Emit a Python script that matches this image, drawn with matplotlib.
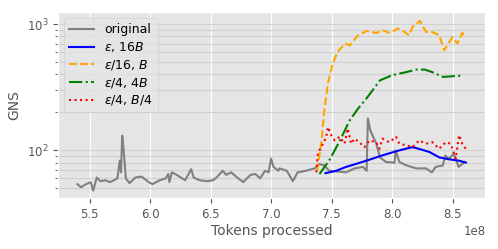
import numpy as np
import matplotlib
matplotlib.use("Agg")
import matplotlib.pyplot as plt

plt.style.use('ggplot')

# token counts in units of 1e8, GNS values
orig_x = [5.40, 5.43, 5.47, 5.51, 5.53, 5.56, 5.59, 5.63, 5.67, 5.73, 5.75, 5.76, 5.77, 5.78,
          5.80, 5.83, 5.88, 5.93, 5.99, 6.02, 6.08, 6.13, 6.15, 6.16, 6.18, 6.22, 6.29, 6.34,
          6.36, 6.41, 6.47, 6.52, 6.55, 6.60, 6.63, 6.67, 6.72, 6.77, 6.83, 6.87, 6.91, 6.95,
          6.98, 7.00, 7.02, 7.06, 7.07, 7.13, 7.18, 7.22, 7.29, 7.36, 7.40, 7.44, 7.48, 7.55,
          7.62, 7.69, 7.76, 7.79, 7.80, 7.82, 7.87, 7.90, 7.95, 8.02, 8.03, 8.06, 8.12, 8.20,
          8.28, 8.33, 8.36, 8.42, 8.44, 8.47, 8.51, 8.55, 8.60]
orig_y = [54, 51, 54, 56, 48, 61, 57, 58, 56, 60, 83, 67, 131, 106,
          60, 55, 61, 62, 56, 54, 58, 60, 65, 56, 67, 64, 58, 71,
          61, 58, 57, 58, 61, 69, 64, 67, 61, 56, 64, 65, 60, 69,
          67, 86, 74, 69, 72, 69, 57, 67, 69, 72, 78, 76, 69, 68,
          67, 72, 74, 69, 179, 144, 113, 88, 81, 80, 100, 81, 76, 72,
          72, 67, 74, 76, 91, 86, 94, 74, 81]

blue_x = [7.45, 7.54, 7.62, 7.70, 7.79, 7.90, 7.98, 8.06, 8.13, 8.17, 8.22, 8.31, 8.39, 8.47, 8.55, 8.61]
blue_y = [66, 69, 74, 78, 83, 90, 95, 100, 104, 106, 103, 97, 88, 85, 83, 80]

orange_x = [7.38, 7.415, 7.44, 7.47, 7.51, 7.55, 7.61, 7.65, 7.72, 7.79, 7.87, 7.92, 7.98, 8.05,
            8.09, 8.14, 8.17, 8.23, 8.28, 8.33, 8.39, 8.43, 8.50, 8.54, 8.58, 8.60]
orange_y = [69, 114, 208, 340, 490, 603, 703, 681, 818, 885, 853, 896, 853, 925,
            885, 818, 952, 1062, 869, 869, 818, 622, 793, 703, 853, 803]

green_x = [7.40, 7.48, 7.57, 7.65, 7.72, 7.79, 7.90, 8.00, 8.12, 8.20, 8.27, 8.33, 8.42, 8.50, 8.58]
green_y = [65, 83, 120, 173, 215, 259, 359, 394, 418, 437, 437, 418, 382, 387, 391]

red_x = [7.374, 7.387, 7.415, 7.456, 7.47, 7.497, 7.525, 7.566, 7.607, 7.634, 7.662, 7.689,
         7.73, 7.771, 7.813, 7.868, 7.895, 7.922, 7.977, 8.033, 8.06, 8.115, 8.169, 8.224,
         8.279, 8.334, 8.389, 8.444, 8.485, 8.526, 8.553, 8.58, 8.609]
red_y = [67, 95, 106, 128, 153, 132, 120, 128, 113, 149, 113, 124,
         116, 106, 120, 116, 103, 124, 116, 128, 113, 110, 106, 120,
         113, 116, 103, 116, 113, 86, 132, 113, 103]

fig = plt.figure(figsize=(4.98, 2.49), dpi=100)
ax = fig.add_axes([0.1165, 0.203, 0.858, 0.748])

ax.plot(np.array(orig_x) * 1e8, orig_y, color='gray', lw=1.5, label='original')
ax.plot(np.array(blue_x) * 1e8, blue_y, color='blue', lw=1.5, label=r'$\epsilon$, 16$B$')
ax.plot(np.array(orange_x) * 1e8, orange_y, color='orange', ls='--', lw=1.5, label=r'$\epsilon$/16, $B$')
ax.plot(np.array(green_x) * 1e8, green_y, color='green', ls='-.', lw=1.5, label=r'$\epsilon$/4, 4$B$')
ax.plot(np.array(red_x) * 1e8, red_y, color='red', ls=':', lw=1.5, label=r'$\epsilon$/4, $B$/4')

ax.set_yscale('log')
ax.set_ylim(41.6, 1245)
ax.grid(False, axis='y')
ax.grid(True, which='both', axis='y', color='#d0d0d0', lw=0.8)
ax.tick_params(labelsize=8.5)
ax.xaxis.get_offset_text().set_fontsize(8.5)
ax.set_xlabel('Tokens processed', fontsize=10, labelpad=2)
ax.set_ylabel('GNS', fontsize=10)
ax.legend(loc='upper left', fontsize=9, labelspacing=0.3)

fig.savefig('out.png', dpi=100)
